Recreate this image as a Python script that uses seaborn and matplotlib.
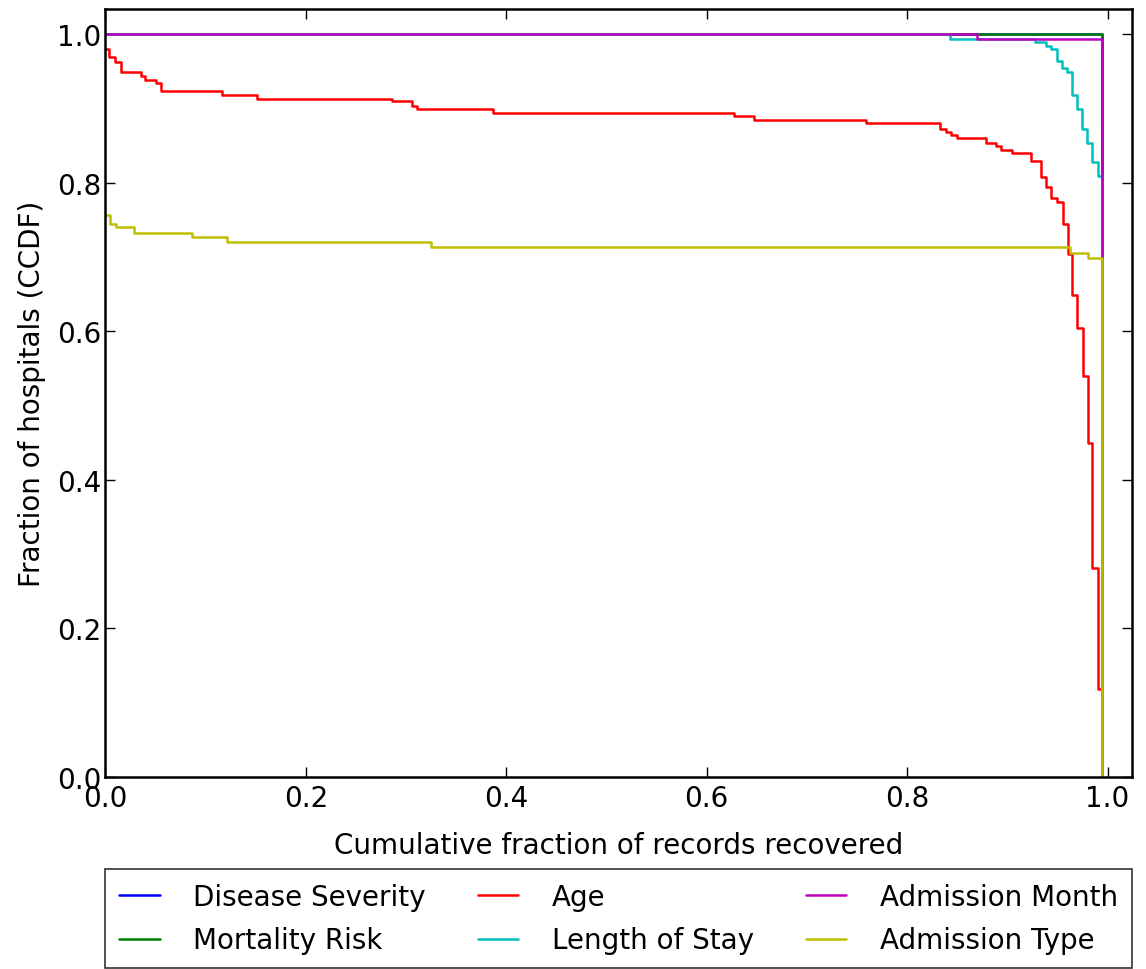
import matplotlib
matplotlib.use("Agg")
import matplotlib.pyplot as plt
import seaborn as sns
import pandas as pd

# Series, in drawing order (legend fills column by column)
series_names = ["Disease Severity", "Mortality Risk", "Age",
                "Length of Stay", "Admission Month", "Admission Type"]
series_colors = [(0, 0, 1), (0, 0.5, 0), (1, 0, 0),
                 (0, 0.75, 0.75), (0.75, 0, 0.75), (0.75, 0.75, 0)]

# Step points (x = cumulative fraction of records recovered, y = CCDF value)
severity_x = [0.0, 0.9945]
severity_y = [1.0, 0.0]

mortality_x = [0.0, 0.9945]
mortality_y = [1.0, 0.0]

age_x = [0.0, 0.0038, 0.0095, 0.0152, 0.0351, 0.0394, 0.0504, 0.0551,
         0.116, 0.151, 0.286, 0.306, 0.311, 0.387, 0.627, 0.647, 0.759,
         0.833, 0.839, 0.844, 0.850, 0.879, 0.889, 0.894, 0.905, 0.924,
         0.934, 0.939, 0.944, 0.949, 0.955, 0.960, 0.964, 0.969, 0.975,
         0.980, 0.984, 0.990, 0.9945]
age_y = [0.980, 0.969, 0.963, 0.949, 0.944, 0.938, 0.935, 0.924,
         0.918, 0.913, 0.910, 0.904, 0.899, 0.894, 0.890, 0.885, 0.880,
         0.873, 0.868, 0.864, 0.860, 0.854, 0.849, 0.844, 0.840, 0.829,
         0.808, 0.794, 0.780, 0.774, 0.744, 0.704, 0.649, 0.604, 0.540,
         0.450, 0.281, 0.119, 0.0]

stay_x = [0.0, 0.843, 0.928, 0.939, 0.944, 0.949, 0.954, 0.959, 0.964,
          0.969, 0.974, 0.979, 0.9845, 0.990, 0.9945]
stay_y = [1.0, 0.9942, 0.990, 0.984, 0.980, 0.964, 0.954, 0.949, 0.918,
          0.899, 0.872, 0.854, 0.828, 0.809, 0.0]

month_x = [0.0, 0.870, 0.9945]
month_y = [1.0, 0.9942, 0.0]

adm_type_x = [0.0, 0.0045, 0.011, 0.029, 0.086, 0.121, 0.325, 0.9626,
              0.980, 0.9945]
adm_type_y = [0.756, 0.745, 0.740, 0.732, 0.727, 0.720, 0.714, 0.705,
              0.699, 0.0]

series_x = [severity_x, mortality_x, age_x, stay_x, month_x, adm_type_x]
series_y = [severity_y, mortality_y, age_y, stay_y, month_y, adm_type_y]

sns.set_style("white")
plt.rcParams["font.family"] = ["DejaVu Sans"]
plt.rcParams["font.size"] = 20
plt.rcParams["text.color"] = "black"
plt.rcParams["axes.labelcolor"] = "black"

fig = plt.figure(figsize=(11.46, 9.70), dpi=100)
ax = fig.add_axes([0.092, 0.198, 0.8955, 0.7917])

for name, color, xs, ys in zip(series_names, series_colors, series_x, series_y):
    df = pd.DataFrame({"x": xs, "y": ys})
    sns.lineplot(data=df, x="x", y="y", ax=ax, color=color, label=name,
                 drawstyle="steps-post", estimator=None, linewidth=1.8)

ax.set_xlim(0, 1.024)
ax.set_ylim(0, 1.034)
ax.set_xticks([0.0, 0.2, 0.4, 0.6, 0.8, 1.0])
ax.set_yticks([0.0, 0.2, 0.4, 0.6, 0.8, 1.0])
ax.set_xticklabels(["0.0", "0.2", "0.4", "0.6", "0.8", "1.0"])
ax.set_yticklabels(["0.0", "0.2", "0.4", "0.6", "0.8", "1.0"])

for side in ["left", "right", "top", "bottom"]:
    ax.spines[side].set_visible(True)
    ax.spines[side].set_color("black")
    ax.spines[side].set_linewidth(1.8)

ax.tick_params(axis="both", which="major", direction="in", length=7,
               width=1, colors="black", labelcolor="black", labelsize=20,
               top=True, right=True, bottom=True, left=True)
ax.tick_params(axis="x", pad=5)
ax.tick_params(axis="y", pad=3)

ax.set_xlabel("Cumulative fraction of records recovered", fontsize=20,
              labelpad=14, color="black")
ax.set_ylabel("Fraction of hospitals (CCDF)", fontsize=20, labelpad=8,
              color="black")

leg = ax.legend(loc="upper left", bbox_to_anchor=(0.0, -0.12, 1.0, 0.0),
                mode="expand", ncol=3, borderaxespad=0, fontsize=20,
                frameon=True, fancybox=False, handlelength=1.45,
                handletextpad=1.2, labelspacing=0.55, borderpad=0.5)
leg.get_frame().set_edgecolor("black")
leg.get_frame().set_linewidth(1.2)
for txt in leg.get_texts():
    txt.set_color("black")

fig.savefig("out.png", dpi=100, facecolor="white")
